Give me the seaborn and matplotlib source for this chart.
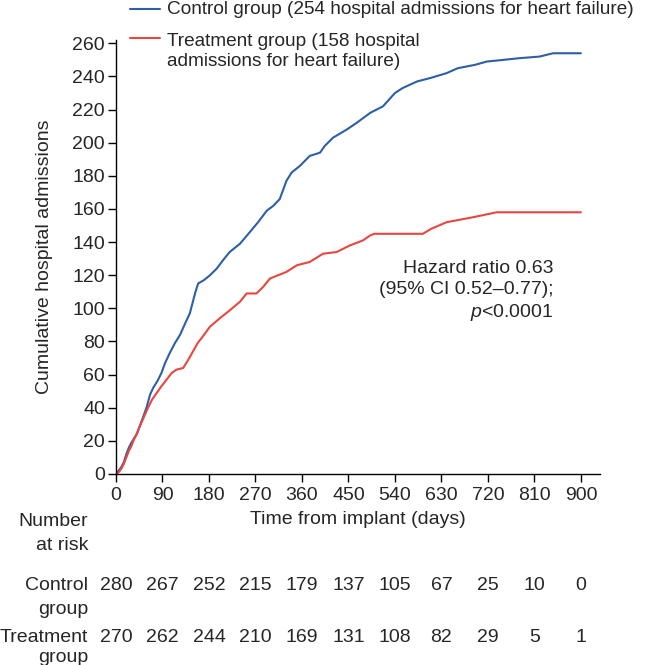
import pandas as pd
import matplotlib.pyplot as plt
import matplotlib.transforms as mtransforms
from matplotlib.lines import Line2D
import seaborn as sns

# Cumulative admissions
control_days = [0, 5, 10, 15, 20, 25, 30, 40, 45, 52, 59, 66, 72, 80, 88, 95, 104, 114,
                124, 134, 143, 153, 159, 170, 182, 195, 207, 220, 240, 259, 275, 292,
                305, 317, 330, 340, 356, 375, 395, 404, 420, 447, 466, 492, 517, 540,
                555, 583, 608, 640, 662, 695, 718, 750, 780, 820, 846, 900]
control_counts = [0, 2, 4, 7, 12, 16, 19, 24, 28, 34, 40, 48, 52, 56, 61, 67, 73, 79,
                  84, 91, 97, 109, 115, 117, 120, 124, 129, 134, 139, 146, 152, 159,
                  162, 166, 177, 182, 186, 192, 194, 198, 203, 208, 212, 218, 222, 230,
                  233, 237, 239, 242, 245, 247, 249, 250, 251, 252, 254, 254]

treatment_days = [0, 5, 10, 15, 20, 25, 30, 35, 40, 45, 52, 62, 70, 79, 88, 98, 108,
                  117, 130, 140, 149, 158, 168, 182, 201, 221, 240, 253, 272, 285, 298,
                  330, 350, 375, 401, 427, 453, 478, 492, 500, 594, 610, 640, 691, 737,
                  760, 900]
treatment_counts = [0, 1, 3, 6, 10, 14, 17, 21, 24, 28, 33, 40, 45, 49, 53, 57, 61,
                    63, 64, 69, 74, 79, 83, 89, 94, 99, 104, 109, 109, 113, 118,
                    122, 126, 128, 133, 134, 138, 141, 144, 145, 145, 148, 152, 155, 158,
                    158, 158]

control_label = "Control group (254 hospital admissions for heart failure)"
treatment_label = ["Treatment group (158 hospital", "admissions for heart failure)"]

risk_times = [0, 90, 180, 270, 360, 450, 540, 630, 720, 810, 900]
control_at_risk = [280, 267, 252, 215, 179, 137, 105, 67, 25, 10, 0]
treatment_at_risk = [270, 262, 244, 210, 169, 131, 108, 82, 29, 5, 1]

blue = "#2d5fa6"
red = "#e8463f"
FS = 14

df = pd.concat([
    pd.DataFrame({"day": control_days, "count": control_counts, "group": "Control"}),
    pd.DataFrame({"day": treatment_days, "count": treatment_counts, "group": "Treatment"}),
])

sns.set_style("ticks")
plt.rcParams["font.family"] = ["Liberation Sans", "DejaVu Sans"]
plt.rcParams["mathtext.fontset"] = "custom"
plt.rcParams["mathtext.rm"] = "Liberation Sans"
plt.rcParams["mathtext.it"] = "Liberation Sans:italic"

W, H = 646, 665
fig = plt.figure(figsize=(W / 100, H / 100), dpi=100)
ax = fig.add_axes([116 / W, 1 - 474 / H, 484 / W, 434 / H])


def fx(px):
    return px / W


def fy(py):
    return 1 - py / H


sns.lineplot(data=df, x="day", y="count", hue="group",
             palette={"Control": blue, "Treatment": red},
             estimator=None, sort=False, linewidth=1.5, legend=False, ax=ax)

ax.set_xlim(0, 937)
ax.set_ylim(0, 262)
ax.set_xticks(risk_times)
ax.set_yticks(range(0, 261, 20))
ax.tick_params(labelsize=FS, length=6, width=1, color="black")
ax.tick_params(axis="x", pad=3.5)
ax.tick_params(axis="y", pad=2)
for side in ["top", "right"]:
    ax.spines[side].set_visible(False)
for side in ["left", "bottom"]:
    ax.spines[side].set_color("black")
    ax.spines[side].set_linewidth(1)

ax.set_xlabel("Time from implant (days)", fontsize=FS)
ax.xaxis.set_label_coords(0.5, -0.085)
ax.set_ylabel("Cumulative hospital admissions", fontsize=FS)
ax.yaxis.set_label_coords(-0.13, 0.5)

# legend above the plot area
fig.add_artist(Line2D([fx(130), fx(160)], [fy(9), fy(9)], color=blue, lw=1.5))
fig.add_artist(Line2D([fx(130), fx(160)], [fy(38), fy(38)], color=red, lw=1.5))
fig.text(fx(167), fy(10), control_label, fontsize=13.7, va="center")
fig.text(fx(167), fy(41), treatment_label[0], fontsize=13.7, va="center")
fig.text(fx(167), fy(62), treatment_label[1], fontsize=13.7, va="center")

ax.text(0.903, 0.493, "Hazard ratio 0.63\n(95% CI 0.52\u20130.77);\n$p$<0.0001",
        transform=ax.transAxes, ha="right", va="top", fontsize=FS, linespacing=1.27)

# number-at-risk table
for txt, py in [("Number", 521), ("at risk", 546), ("Control", 585), ("group", 610),
                ("Treatment", 637), ("group", 658)]:
    fig.text(fx(88), fy(py), txt, ha="right", va="center", fontsize=FS)

trans = mtransforms.blended_transform_factory(ax.transData, fig.transFigure)
for t, c, tr in zip(risk_times, control_at_risk, treatment_at_risk):
    ax.text(t, fy(585), str(c), transform=trans, ha="center", va="center", fontsize=FS)
    ax.text(t, fy(637), str(tr), transform=trans, ha="center", va="center", fontsize=FS)

fig.savefig("out.png", dpi=100)
